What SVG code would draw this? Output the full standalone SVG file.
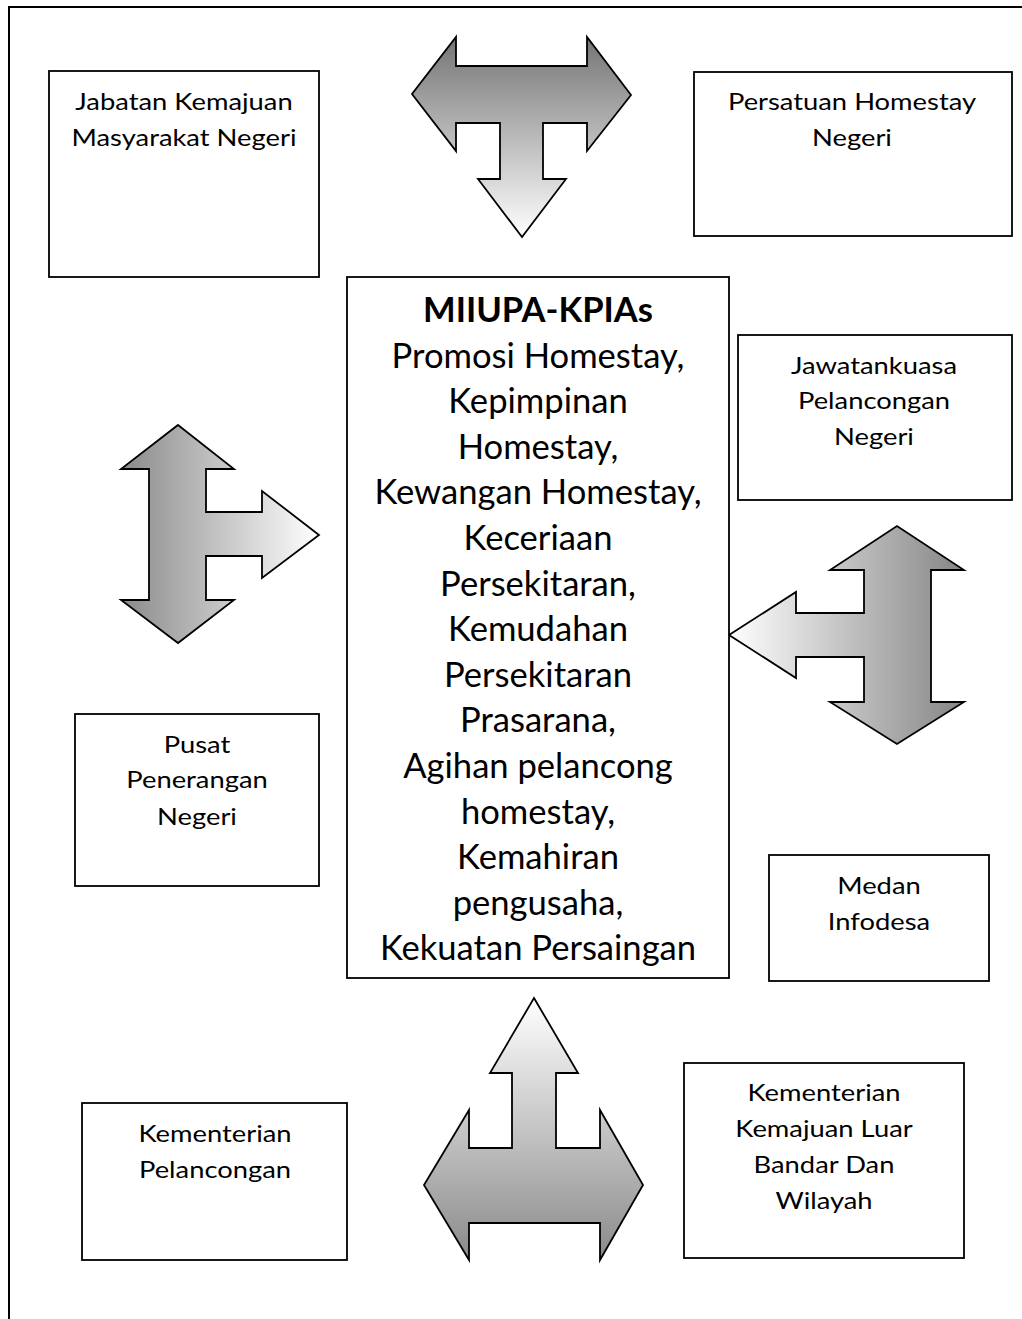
<svg xmlns="http://www.w3.org/2000/svg" width="1022" height="1319" viewBox="0 0 1022 1319">
<style>
.box{fill:#fff;stroke:#000;stroke-width:1.8}
.arr{stroke:#000;stroke-width:1.8;stroke-linejoin:miter}
.t{font-family:Lato,"Liberation Sans",sans-serif;font-size:23px;fill:#000;text-anchor:middle}
.c{font-family:Lato,"Liberation Sans",sans-serif;font-size:34.6px;fill:#000;text-anchor:middle}
.b{font-weight:bold}
</style>
<defs>
<linearGradient id="gTop" gradientUnits="userSpaceOnUse" x1="0" y1="37" x2="0" y2="237">
<stop offset="0" stop-color="#747474"/><stop offset="1" stop-color="#ffffff"/></linearGradient>
<linearGradient id="gLeft" gradientUnits="userSpaceOnUse" x1="121" y1="0" x2="319" y2="0">
<stop offset="0" stop-color="#8a8a8a"/><stop offset="1" stop-color="#ffffff"/></linearGradient>
<linearGradient id="gRight" gradientUnits="userSpaceOnUse" x1="729" y1="0" x2="964" y2="0">
<stop offset="0" stop-color="#ffffff"/><stop offset="1" stop-color="#858585"/></linearGradient>
<linearGradient id="gBot" gradientUnits="userSpaceOnUse" x1="0" y1="998" x2="0" y2="1260">
<stop offset="0" stop-color="#ffffff"/><stop offset="1" stop-color="#8a8a8a"/></linearGradient>
</defs>
<rect x="9" y="7" width="1040" height="1340" fill="#fff" stroke="#000" stroke-width="2"/>
<g id="connectors">
<polygon class="arr" fill="url(#gTop)" points="456,37 456,66 587,66 587,37 631,95 587,151 587,123 543,123 543,179 566,179 522,237 478,179 500,179 500,123 456,123 456,151 412,94"/>
<polygon class="arr" fill="url(#gLeft)" points="178,425 234,469 206,469 206,512 262,512 262,491 319,535 262,578 262,556 206,556 206,600 234,600 178,643 121,600 149,600 149,469 121,469"/>
<polygon class="arr" fill="url(#gRight)" points="729,635 796,592 796,613 864,613 864,570 830,570 897,526 964,570 931,570 931,702 964,702 897,744 830,702 864,702 864,657 796,657 796,678"/>
<polygon class="arr" fill="url(#gBot)" points="534,998 578,1073 556,1073 556,1148 600,1148 600,1110 643,1185 600,1260 600,1223 469,1223 469,1260 424,1185 469,1110 469,1148 512,1148 512,1073 490,1073"/>
</g>
<g id="jabatan">
<rect class="box" x="49" y="71" width="270" height="206"/>
<text class="t" transform="translate(184,110) scale(1.19,1)">Jabatan Kemajuan</text>
<text class="t" transform="translate(184,146) scale(1.19,1)">Masyarakat Negeri</text>
</g>
<g id="persatuan">
<rect class="box" x="694" y="72" width="318" height="164"/>
<text class="t" transform="translate(852,110) scale(1.19,1)">Persatuan Homestay</text>
<text class="t" transform="translate(852,146) scale(1.19,1)">Negeri</text>
</g>
<g id="center">
<rect class="box" x="347" y="277" width="382" height="701"/>
<text class="c b" x="538" y="322">MIIUPA-KPIAs</text>
<text class="c" x="538" y="367.6">Promosi Homestay,</text>
<text class="c" x="538" y="413.2">Kepimpinan</text>
<text class="c" x="538" y="458.8">Homestay,</text>
<text class="c" x="538" y="504.4">Kewangan Homestay,</text>
<text class="c" x="538" y="550">Keceriaan</text>
<text class="c" x="538" y="595.6">Persekitaran,</text>
<text class="c" x="538" y="641.2">Kemudahan</text>
<text class="c" x="538" y="686.8">Persekitaran</text>
<text class="c" x="538" y="732.4">Prasarana,</text>
<text class="c" x="538" y="778">Agihan pelancong</text>
<text class="c" x="538" y="823.6">homestay,</text>
<text class="c" x="538" y="869.2">Kemahiran</text>
<text class="c" x="538" y="914.8">pengusaha,</text>
<text class="c" x="538" y="960.4">Kekuatan Persaingan</text>
</g>
<g id="jawatankuasa">
<rect class="box" x="738" y="335" width="274" height="165"/>
<text class="t" transform="translate(874,374) scale(1.19,1)">Jawatankuasa</text>
<text class="t" transform="translate(874,409) scale(1.19,1)">Pelancongan</text>
<text class="t" transform="translate(874,445) scale(1.19,1)">Negeri</text>
</g>
<g id="pusat">
<rect class="box" x="75" y="714" width="244" height="172"/>
<text class="t" transform="translate(197,753) scale(1.19,1)">Pusat</text>
<text class="t" transform="translate(197,788) scale(1.19,1)">Penerangan</text>
<text class="t" transform="translate(197,825) scale(1.19,1)">Negeri</text>
</g>
<g id="medan">
<rect class="box" x="769" y="855" width="220" height="126"/>
<text class="t" transform="translate(879,894) scale(1.19,1)">Medan</text>
<text class="t" transform="translate(879,930) scale(1.19,1)">Infodesa</text>
</g>
<g id="kementerian-pelancongan">
<rect class="box" x="82" y="1103" width="265" height="157"/>
<text class="t" transform="translate(215,1142) scale(1.19,1)">Kementerian</text>
<text class="t" transform="translate(215,1178) scale(1.19,1)">Pelancongan</text>
</g>
<g id="kementerian-kemajuan">
<rect class="box" x="684" y="1063" width="280" height="195"/>
<text class="t" transform="translate(824,1101) scale(1.19,1)">Kementerian</text>
<text class="t" transform="translate(824,1137) scale(1.19,1)">Kemajuan Luar</text>
<text class="t" transform="translate(824,1173) scale(1.19,1)">Bandar Dan</text>
<text class="t" transform="translate(824,1209) scale(1.19,1)">Wilayah</text>
</g>
</svg>
